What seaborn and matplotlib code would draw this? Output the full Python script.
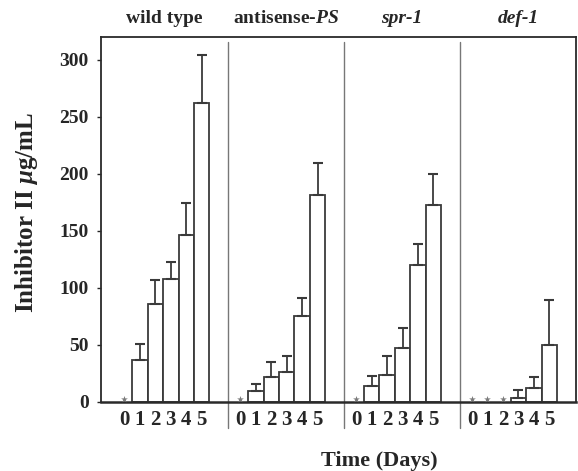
import matplotlib
matplotlib.use("Agg")
import matplotlib.pyplot as plt
import numpy as np
import pandas as pd
import seaborn as sns

# values (ug/mL), days 0..5
GROUPS = ["wild type", "antisense-$PS$", "spr-1", "def-1"]
DAYS = [0, 1, 2, 3, 4, 5]
wild_type = [0, 36.5, 85.6, 108, 146.7, 262]
wild_type_err = [0, 14.5, 21, 15, 27.7, 41.8]
antisense_ps = [0, 9.4, 21.9, 26.6, 75.1, 181.7]
antisense_ps_err = [0, 6.7, 12.9, 13.4, 16, 28.1]
spr_1 = [0, 14, 23.4, 47.7, 119.8, 172.3]
spr_1_err = [0, 8.8, 16.6, 17.1, 18.4, 27.8]
def_1 = [0, 0, 0, 3.9, 12.3, 50.3]
def_1_err = [0, 0, 0, 7, 9.6, 38.7]
# days marked with a small asterisk (not detected)
not_detected = [
    [True, False, False, False, False, False],
    [True, False, False, False, False, False],
    [True, False, False, False, False, False],
    [True, True, True, False, False, False],
]

GROUP_STEP = 7.5
SEP_OFFSET = 6.73

rows = []
for g, (vals, errs, nds) in enumerate(zip(
        [wild_type, antisense_ps, spr_1, def_1],
        [wild_type_err, antisense_ps_err, spr_1_err, def_1_err],
        not_detected)):
    for d, v, e, nd in zip(DAYS, vals, errs, nds):
        rows.append({"group": GROUPS[g], "day": d, "value": v, "err": e,
                     "nd": nd, "pos": g * GROUP_STEP + d})
df = pd.DataFrame(rows)

sns.set_style("white")
plt.rcParams["font.family"] = ["Liberation Serif", "DejaVu Serif"]
plt.rcParams["font.weight"] = "bold"
plt.rcParams["mathtext.fontset"] = "custom"
plt.rcParams["mathtext.rm"] = "Liberation Serif:bold"
plt.rcParams["mathtext.it"] = "Liberation Serif:italic:bold"
plt.rcParams["mathtext.bf"] = "Liberation Serif:bold"

fig = plt.figure(figsize=(5.78, 4.71), dpi=100)
ax = fig.add_axes([101 / 578, 1 - 402 / 471, 475 / 578, 365 / 471])

edge = "#3a3a3a"
bars = df[~df["nd"]]
sns.barplot(data=bars, x="pos", y="value", native_scale=True, width=1.0,
            color="white", saturation=1, edgecolor=edge, linewidth=1.3,
            errorbar=None, ax=ax)
has_err = bars[bars["err"] > 0]
ax.errorbar(has_err["pos"], has_err["value"],
            yerr=[np.zeros(len(has_err)), has_err["err"]],
            fmt="none", ecolor=edge, elinewidth=1.3, capsize=3.5, capthick=1.5,
            zorder=1)

nd = df[df["nd"]]
ax.scatter(nd["pos"], np.full(len(nd), 3.0), marker="*", s=26,
           color="#7a7a7a", zorder=3, linewidths=0)

ax.set_xlim(-1.52, (len(GROUPS) - 1) * GROUP_STEP + SEP_OFFSET)
ax.set_ylim(0, 320)
ax.set_yticks(range(0, 301, 50))
ax.set_xticks(df["pos"])
ax.set_xticklabels([str(d) for d in df["day"]])
ax.tick_params(axis="x", length=0, pad=6, labelsize=15)
ax.tick_params(axis="y", direction="out", length=3, width=1, pad=6,
               labelsize=14, left=True)
for lab in ax.get_xticklabels() + ax.get_yticklabels():
    lab.set_fontweight("bold")

for side in ["left", "right", "top", "bottom"]:
    ax.spines[side].set_visible(True)
    ax.spines[side].set_color("#2a2a2a")
    ax.spines[side].set_linewidth(1.3)
ax.spines["bottom"].set_linewidth(1.8)

seps = [g * GROUP_STEP + SEP_OFFSET for g in range(len(GROUPS) - 1)]
for s in seps:
    ax.axvline(s, ymin=-0.071, ymax=0.987, color="#777777", lw=1.0,
               clip_on=False)

edges = [ax.get_xlim()[0]] + seps + [ax.get_xlim()[1]]
for g, name in enumerate(GROUPS):
    cx = (edges[g] + edges[g + 1]) / 2
    style = "italic" if name in ("spr-1", "def-1") else "normal"
    ax.text(cx, 1.05, name, transform=ax.get_xaxis_transform(),
            ha="center", va="center", fontsize=14, fontweight="bold",
            fontstyle=style)

ax.set_ylabel("Inhibitor II $\\mu$g/mL", fontsize=18, fontweight="bold")
ax.yaxis.set_label_coords(-0.128, 0.52)
ax.set_xlabel("Time (Days)", fontsize=16, fontweight="bold")
ax.xaxis.set_label_coords(0.585, -0.135)

fig.savefig("out.png", dpi=100)
